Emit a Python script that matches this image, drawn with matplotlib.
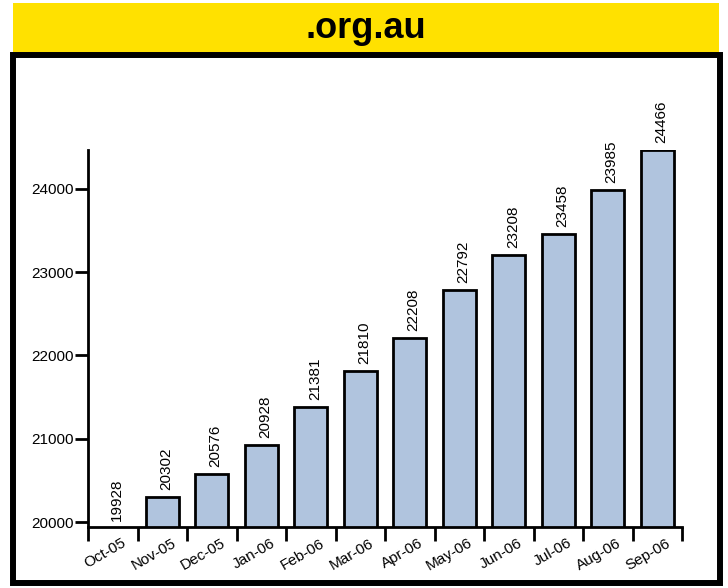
import matplotlib
matplotlib.use("Agg")
import matplotlib.pyplot as plt
from matplotlib.patches import Rectangle

plt.rcParams["font.family"] = ["Liberation Sans", "DejaVu Sans"]

months = ["Oct-05", "Nov-05", "Dec-05", "Jan-06", "Feb-06", "Mar-06",
          "Apr-06", "May-06", "Jun-06", "Jul-06", "Aug-06", "Sep-06"]
domains = [19928, 20302, 20576, 20928, 21381, 21810,
           22208, 22792, 23208, 23458, 23985, 24466]
yticks = [20000, 21000, 22000, 23000, 24000]
title = ".org.au"

W, H = 728, 588
fig = plt.figure(figsize=(W / 100, H / 100), dpi=100)

# yellow title banner and black frame
fig.patches.append(Rectangle((13 / W, 1 - 52 / H), 706 / W, 49 / H,
                             transform=fig.transFigure, facecolor="#ffe100",
                             edgecolor="none", zorder=0))
fig.patches.append(Rectangle((13 / W, 1 - 583 / H), 707 / W, 528 / H,
                             transform=fig.transFigure, facecolor="none",
                             edgecolor="black", linewidth=4.3, zorder=1))
fig.text(366 / W, 1 - 29 / H, title, ha="center", va="center",
         fontsize=26, fontweight="bold")

ax = fig.add_axes([88 / W, 1 - 527 / H, 594 / W, 377 / H])
x = list(range(len(months)))
ax.bar(x, domains, width=0.67, color="#b0c4de", edgecolor="black",
       linewidth=2, zorder=2)

ax.set_xlim(-0.5, len(months) - 0.5)
ax.set_ylim(19940, 24468)

for s in ["top", "right"]:
    ax.spines[s].set_visible(False)
for s in ["left", "bottom"]:
    ax.spines[s].set_linewidth(2)

ax.set_yticks(yticks)
ax.set_yticklabels([str(t) for t in yticks], fontsize=11)
ax.tick_params(axis="y", length=9.5, width=2, pad=1)

ax.set_xticks([i - 0.5 for i in range(len(months) + 1)])
ax.set_xticklabels([])
ax.tick_params(axis="x", length=10, width=2)

for i, m in enumerate(months):
    ax.annotate(m, xy=(i, 0), xycoords=("data", "axes fraction"),
                xytext=(12.5, -15), textcoords="offset pixels",
                rotation=30, rotation_mode="anchor", ha="right",
                va="center", fontsize=11, annotation_clip=False)

for i, v in enumerate(domains):
    ax.annotate(str(v), xy=(i, v), xytext=(4, 7), textcoords="offset pixels",
                rotation=90, ha="center", va="bottom", fontsize=11,
                annotation_clip=False)

fig.savefig("out.png", dpi=100)
